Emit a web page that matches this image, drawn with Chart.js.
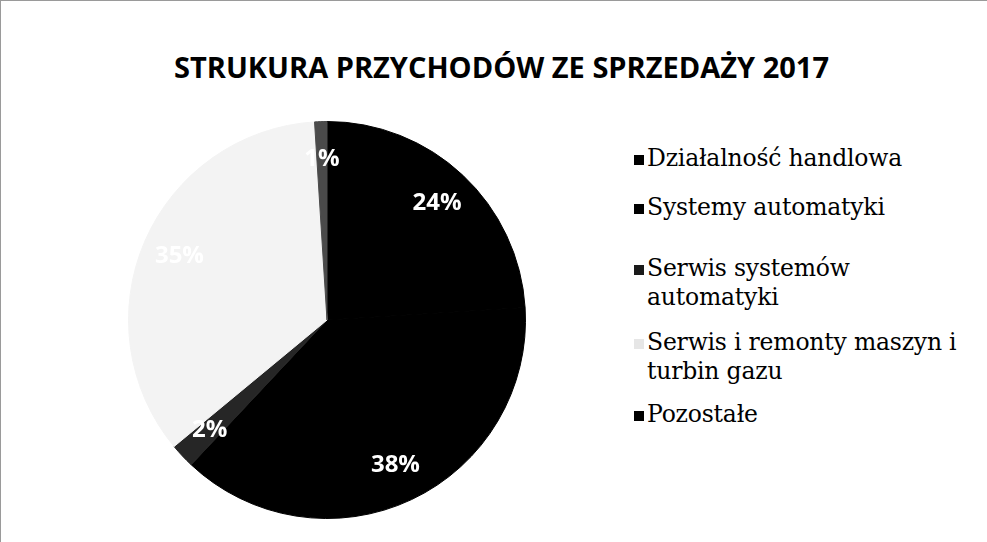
<!DOCTYPE html>
<html>
<head>
<meta charset="utf-8">
<script src="https://cdn.jsdelivr.net/npm/chart.js@4"></script>
<style>
    body { margin: 0; background: #fff; }
    #ramka {
        position: relative; width: 987px; height: 542px; overflow: hidden;
        box-sizing: border-box; border-top: 1px solid #9a9a9a; border-left: 1px solid #9a9a9a;
    }
    #tytul {
        position: absolute; left: 7px; width: 987px; top: 46px; text-align: center;
        font-family: "Open Sans", sans-serif; font-weight: bold; font-size: 29px; color: #000;
        letter-spacing: 0px;
    }
    #wykres { position: absolute; left: 126px; top: 119px; width: 400px; height: 400px; }
    #legenda {
        position: absolute; left: 633px; top: 143px; width: 350px;
        font-family: "DejaVu Serif", serif; font-size: 23.5px; line-height: 29px; color: #000;
        letter-spacing: -0.2px;
    }
    .item-legendy { display: flex; align-items: flex-start; }
    .znacznik { width: 10px; height: 10px; flex: none; margin: 11px 3px 0 0; }
    .item-legendy:nth-child(1) { margin-bottom: 20px; }
    .item-legendy:nth-child(2) { margin-bottom: 32px; }
    .item-legendy:nth-child(3) { margin-bottom: 16px; }
    .item-legendy:nth-child(4) { margin-bottom: 14px; }
</style>
</head>
<body>
<div id="ramka">
    <div id="tytul">STRUKURA PRZYCHODÓW ZE SPRZEDAŻY 2017</div>
    <div id="wykres"><canvas id="grafico"></canvas></div>
    <div id="legenda"></div>
</div>
<script>
const kategorie = ['Działalność handlowa', 'Systemy automatyki', 'Serwis systemów automatyki', 'Serwis i remonty maszyn i turbin gazu', 'Pozostałe'];
const udzialy = [24, 38, 2, 35, 1];
const kolory = ['#000000', '#000000', '#262626', '#f3f3f3', '#4a4a4a'];
const koloryLegendy = ['#000000', '#000000', '#1a1a1a', '#e6e6e6', '#000000'];

// etykiety procentowe na wycinkach
const etykiety = {
    id: 'etykiety',
    afterDatasetsDraw(chart) {
        const ctx = chart.ctx;
        const meta = chart.getDatasetMeta(0);
        ctx.save();
        ctx.fillStyle = '#ffffff';
        ctx.font = 'bold 24px "Open Sans", sans-serif';
        ctx.textAlign = 'center';
        ctx.textBaseline = 'middle';
        meta.data.forEach((arc, i) => {
            const p = arc.getProps(['x', 'y', 'startAngle', 'endAngle', 'outerRadius']);
            const kat = (p.startAngle + p.endAngle) / 2;
            const r = p.outerRadius * 0.81;
            ctx.fillText(udzialy[i] + '%', p.x + Math.cos(kat) * r, p.y + Math.sin(kat) * r);
        });
        ctx.restore();
    }
};

new Chart(document.getElementById('grafico'), {
    type: 'pie',
    data: {
        labels: kategorie,
        datasets: [{
            data: udzialy,
            backgroundColor: kolory,
            borderColor: kolory,
            borderWidth: 1
        }]
    },
    options: {
        responsive: true,
        maintainAspectRatio: false,
        animation: false,
        layout: { padding: 1 },
        plugins: {
            legend: { display: false },
            tooltip: { enabled: false }
        }
    },
    plugins: [etykiety]
});

let legenda = document.getElementById('legenda');
kategorie.forEach((nazwa, i) => {
    legenda.innerHTML += `
    <div class="item-legendy">
        <span class="znacznik" style="background:${koloryLegendy[i]}"></span>
        <span>${nazwa}</span>
    </div>`;
});
</script>
</body>
</html>
